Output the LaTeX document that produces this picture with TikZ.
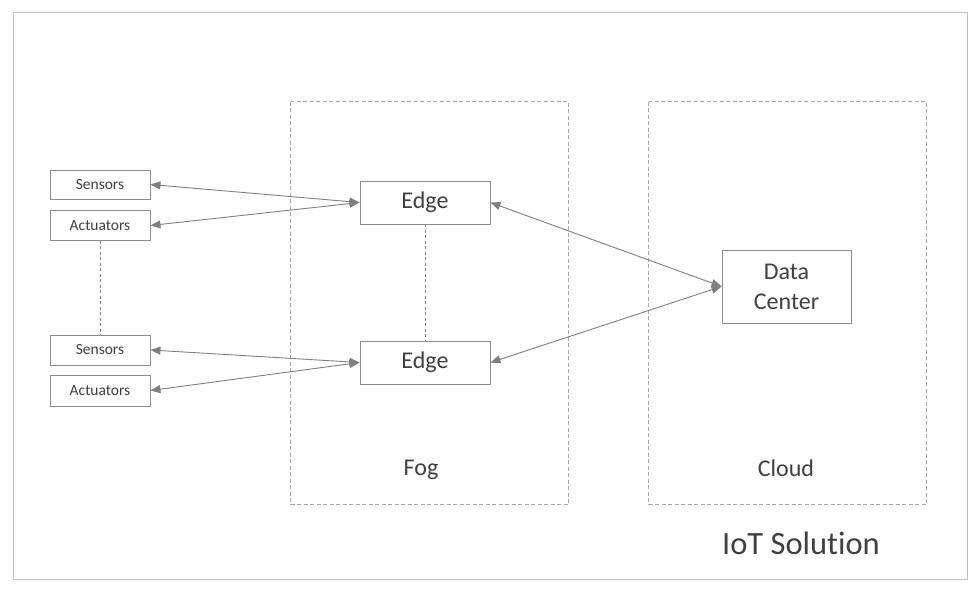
\documentclass[tikz,border=0pt]{standalone}
\usepackage{fontspec}
\setmainfont{Carlito}[Ligatures={NoCommon}]
\usetikzlibrary{arrows.meta}
\definecolor{txt}{HTML}{404040}
\definecolor{boxc}{HTML}{8C8C8C}
\definecolor{dashc}{HTML}{A6A6A6}
\definecolor{framec}{HTML}{C0C0C0}
\definecolor{arrc}{HTML}{808080}
\begin{document}
\begin{tikzpicture}[x=1pt,y=-1pt,
  smallbox/.style={draw=boxc,line width=0.9pt,minimum width=100pt,inner sep=0pt,text=txt,font=\fontsize{15.5}{18}\selectfont},
  bigbox/.style={draw=boxc,line width=0.9pt,minimum width=130pt,inner sep=0pt,text=txt,font=\fontsize{24}{28}\selectfont,align=center},
  zone/.style={draw=dashc,line width=0.9pt,dash pattern=on 4pt off 2.5pt},
  label/.style={text=txt,inner sep=0pt},
  conn/.style={draw=arrc,line width=0.9pt,{Triangle[length=10pt,width=8pt]}-{Triangle[length=10pt,width=8pt]}},
  dline/.style={draw=arrc,line width=0.9pt,dash pattern=on 3pt off 2.5pt}]
\useasboundingbox (0,0) rectangle (975,594);
\fill[white] (0,0) rectangle (975,594);
% outer frame
\draw[framec,line width=1pt] (13.5,12.5) rectangle (967.5,579.5);
% zones
\draw[zone] (290.5,101.5) rectangle (568.5,504.5);
\draw[zone] (648.5,101.5) rectangle (926.5,504.5);
% nodes
\node[smallbox,minimum height=29pt] (s1) at (100,184.5) {Sensors};
\node[smallbox,minimum height=30pt] (a1) at (100,225.5) {Actuators};
\node[smallbox,minimum height=30pt] (s2) at (100,350) {Sensors};
\node[smallbox,minimum height=31pt] (a2) at (100,390.5) {Actuators};
\node[bigbox,minimum height=43pt] (e1) at (425,202.5) {Edge};
\node[bigbox,minimum height=43pt] (e2) at (425,362.5) {Edge};
\node[bigbox,minimum width=129pt,minimum height=73pt,font=\fontsize{24}{30}\selectfont] (dc) at (786.5,286.5) {Data\\Center};
% labels
\node[label,font=\fontsize{24}{28}\selectfont] (fog) at (421,470) {Fog};
\node[label,font=\fontsize{24}{28}\selectfont] (cloud) at (786,468) {Cloud};
\node[label,font=\fontsize{32.5}{38}\selectfont] (iot) at (801,543) {IoT Solution};
% dashed links
\draw[dline] (a1.south) -- (s2.north);
\draw[dline] (e1.south) -- (e2.north);
% connectors
\draw[conn] (s1.east) -- (e1.west);
\draw[conn] (a1.east) -- (e1.west);
\draw[conn] (s2.east) -- (e2.west);
\draw[conn] (a2.east) -- (e2.west);
\draw[conn] (e1.east) -- (dc.west);
\draw[conn] (e2.east) -- (dc.west);
\end{tikzpicture}
\end{document}
